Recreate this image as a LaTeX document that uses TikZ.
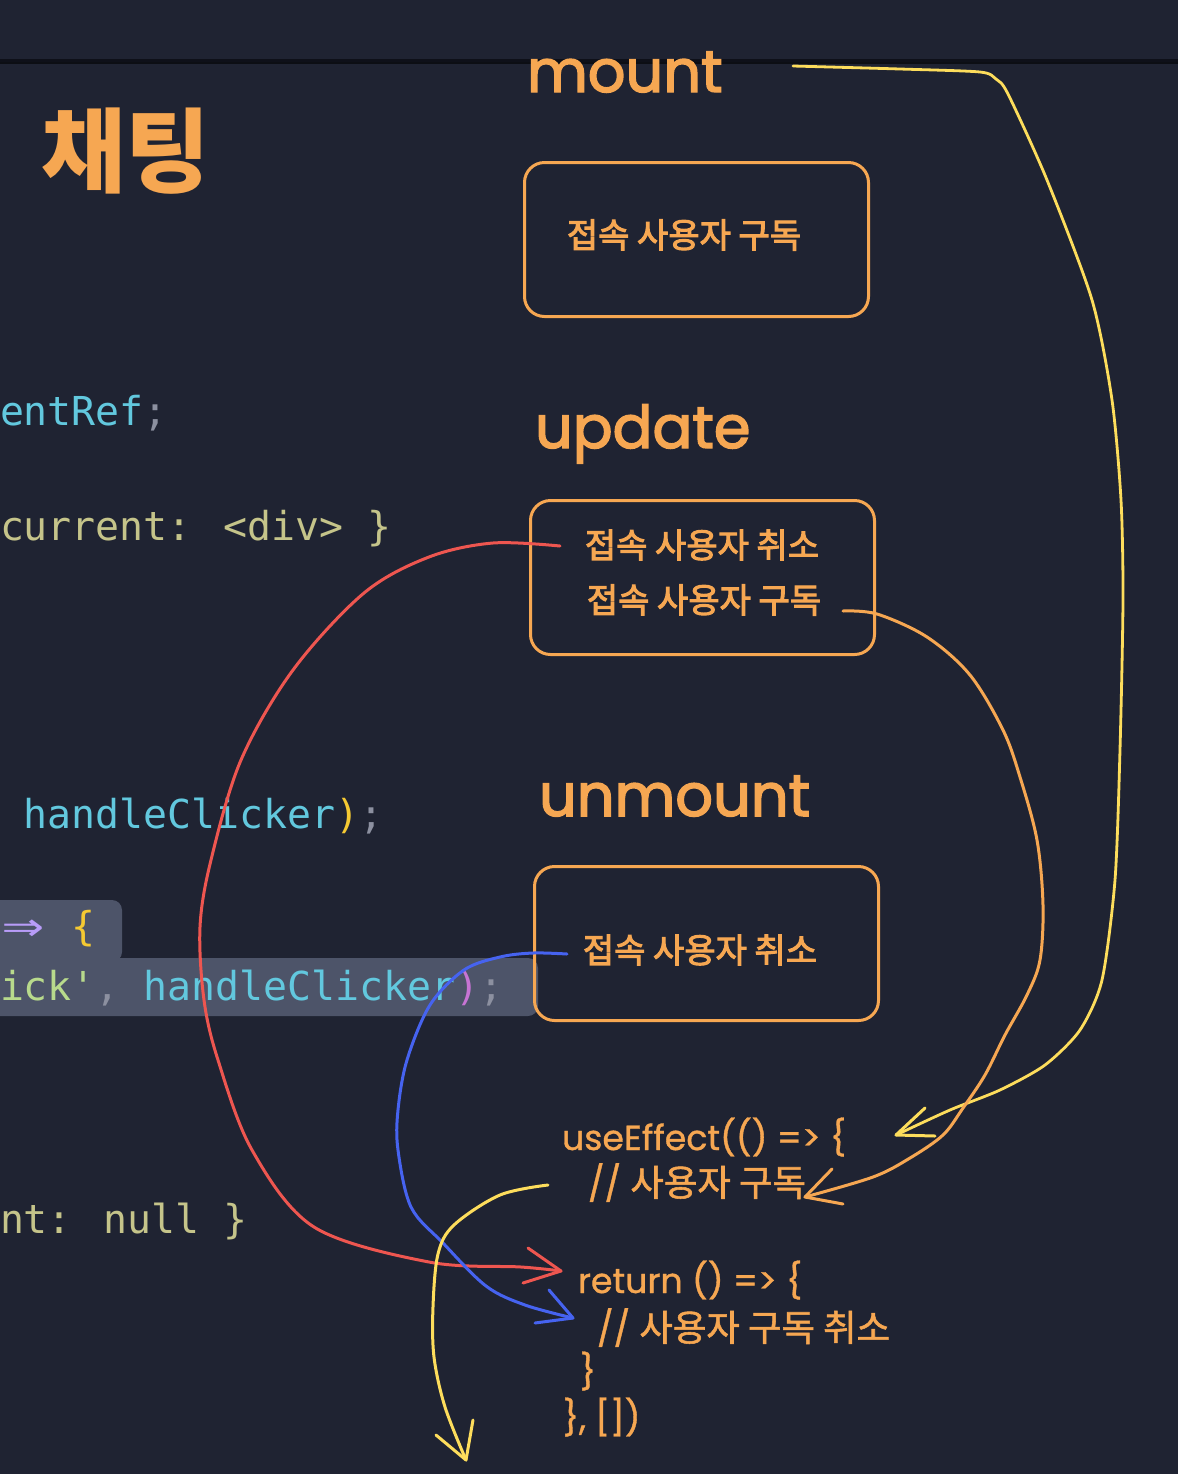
\documentclass[tikz,border=0pt]{standalone}
\usepackage{fontspec}
\newfontfamily\kr{Noto Sans CJK KR}
\newfontfamily\krm{Noto Sans CJK KR}[FakeBold=3]
\newfontfamily\krh{Noto Sans CJK KR}[FakeBold=1.5]
\newfontfamily\pop{Poppins}[FakeBold=2.5]
\newfontfamily\popr{Poppins}[FakeBold=1]
\newfontfamily\mono{DejaVu Sans Mono}
\usetikzlibrary{calc}
\definecolor{bg}{HTML}{1F2332}
\definecolor{barline}{HTML}{0E1019}
\definecolor{org}{HTML}{F6A752}
\definecolor{yel}{HTML}{FDDD5C}
\definecolor{redc}{HTML}{EE5650}
\definecolor{bluec}{HTML}{4663F0}
\definecolor{cyanc}{HTML}{62C8DE}
\definecolor{khaki}{HTML}{C5C48A}
\definecolor{punct}{HTML}{8C90A0}
\definecolor{strg}{HTML}{B8DA8C}
\definecolor{purp}{HTML}{B89CF8}
\definecolor{brace}{HTML}{F5C932}
\definecolor{pinkc}{HTML}{C774D4}
\definecolor{hl}{HTML}{4D5469}
\tikzset{
  every node/.style={inner sep=0pt, outer sep=0pt},
  stagebox/.style={draw=org, line width=1.5pt, rounded corners=10pt, minimum width=172pt, minimum height=77pt},
  boxtext/.style={text=org, font=\krm\fontsize{17}{25}\selectfont},
  title/.style={anchor=base west, text=org, font=\pop\fontsize{29.5}{36}\selectfont},
  code/.style={anchor=base west, font=\mono\fontsize{19.93}{24}\selectfont},
  hook/.style={anchor=base west, text=org, font=\popr\fontsize{17.4}{20}\selectfont},
  wire/.style={line width=1.5pt, line cap=round, line join=round},
}
\newcommand\hk[1]{{\krh\fontsize{18.2}{20}\selectfont #1}}
\begin{document}
\begin{tikzpicture}[x=0.5pt,y=-0.5pt]
\useasboundingbox (0,0) rectangle (1178,1474);
\fill[bg] (0,0) rectangle (1178,1474);
% top bar separator
\fill[barline] (0,59) rectangle (1178,62);
\fill[black!60!bg] (0,62) rectangle (1178,64);

% code highlight
\fill[hl, rounded corners=5pt] (-20,900) rectangle (122,962);
\fill[hl, rounded corners=5pt] (-20,958) rectangle (538,1016);

% left code
\node[code] (c1) at (0,425) {\textcolor{cyanc}{entRef}\textcolor{punct}{;}};
\node[code] (c2) at (0,540) {\textcolor{khaki}{current: <div> \}}};
\node[code] (c3) at (0,828) {\textcolor{cyanc}{\ handleClicker}\textcolor{brace}{)}\textcolor{punct}{;}};
\node[code] (c4) at (0,940) {\makebox[1.204em]{\textcolor{purp}{\raisebox{-0.05em}{\scalebox{1.75}[1.3]{⇒}}}}\ \textcolor{brace}{\{}};
\node[code] (c5) at (0,1000) {\textcolor{strg}{ick'}\textcolor{punct}{,} \textcolor{cyanc}{handleClicker}\textcolor{pinkc}{)}\textcolor{punct}{;}};
\node[code] (c6) at (0,1233) {\textcolor{khaki}{nt: null \}}};

% heading and stage titles
\node[anchor=west, text=org, font=\kr\bfseries\fontsize{46}{50}\selectfont] (head) at (41,151) {채팅};
\node[title] (tmount) at (527,92) {mount};
\node[title] (tupdate) at (535,448) {update};
\node[title] (tunmount) at (539,816) {unmount};

% boxes
\node[stagebox] (box1) at (696.5,239.5) {};
\node[stagebox] (box2) at (702.5,577.5) {};
\node[stagebox] (box3) at (706.5,943.5) {};
\node[boxtext] (box1a) at (684,235) {접속 사용자 구독};
\node[boxtext] (box2a) at (702,545) {접속 사용자 취소};
\node[boxtext] (box2b) at (704,600) {접속 사용자 구독};
\node[boxtext] (box3a) at (700,950) {접속 사용자 취소};

% useEffect code
\node[hook] (h1) at (562,1150) {useEffect(() => \{};
\node[hook] (h2) at (588,1196) {// \hk{사용자 구독}};
\node[hook] (h3) at (578,1293) {return () => \{};
\node[hook] (h4) at (597,1341) {// \hk{사용자 구독 취소}};
\node[hook] (h5) at (580,1384) {\}};
\node[hook] (h6) at (563,1430) {\}, [])};

% connector end points
\coordinate (ys) at (793,66);
\coordinate (ye) at (896,1135);
\coordinate (os) at (843,611);
\coordinate (oe) at (805,1197);
\coordinate (rs) at (560,546);
\coordinate (re) at (561,1271);
\coordinate (bs) at (567,954);
\coordinate (be) at (573,1318);
\coordinate (y2s) at (548,1185);
\coordinate (y2e) at (466,1460);

% yellow: mount -> useEffect
\draw[wire, yel, line width=1.4pt] plot[smooth, tension=0.45] coordinates {(ys) (900,69) (980,72) (996,79) (1008,94) (1047,180) (1092,300) (1112,400) (1121,500) (1123,600) (1120,750) (1115,880) (1102,980) (1080,1030) (1045,1065) (1000,1090) (950,1110) (ye)};
\draw[wire, yel] (ye) ++(29,-27) -- (ye) -- ++(39,1);

% orange: update -> subscribe comment
\draw[wire, org] plot[smooth, tension=0.55] coordinates {(os) (877,614) (927,637) (970,675) (1003,730) (1020,777) (1037,840) (1043,905) (1040,960) (1027,995) (1005,1035) (985,1075) (963,1108) (943,1135) (910,1158) (873,1177) (oe)};
\draw[wire, org] (oe) ++(27,-28) -- (oe) -- ++(38,7);

% red: update cancel -> return
\draw[wire, redc] plot[smooth, tension=0.55] coordinates {(rs) (493,543) (429,557) (364,593) (293,670) (241,760) (211,860) (200,927) (204,1000) (218,1060) (252,1150) (314,1227) (429,1262) (521,1267) (re)};
\draw[wire, redc] (re) ++(-33,-23) -- (re) -- ++(-38,12);

% blue: unmount cancel -> return
\draw[wire, bluec] plot[smooth, tension=0.55] coordinates {(bs) (533,953) (500,957) (464,970) (430,1005) (407,1060) (398,1110) (398,1150) (411,1207) (443,1243) (486,1286) (525,1305) (be)};
\draw[wire, bluec] (be) ++(-24,-28) -- (be) -- ++(-38,5);

% yellow: subscribe comment -> down
\draw[wire, yel] plot[smooth, tension=0.55] coordinates {(y2s) (500,1195) (454,1225) (438,1254) (433,1307) (434,1357) (445,1407) (y2e)};
\draw[wire, yel] (y2e) ++(-30,-25) -- (y2e) -- ++(7,-40);
\end{tikzpicture}
\end{document}
